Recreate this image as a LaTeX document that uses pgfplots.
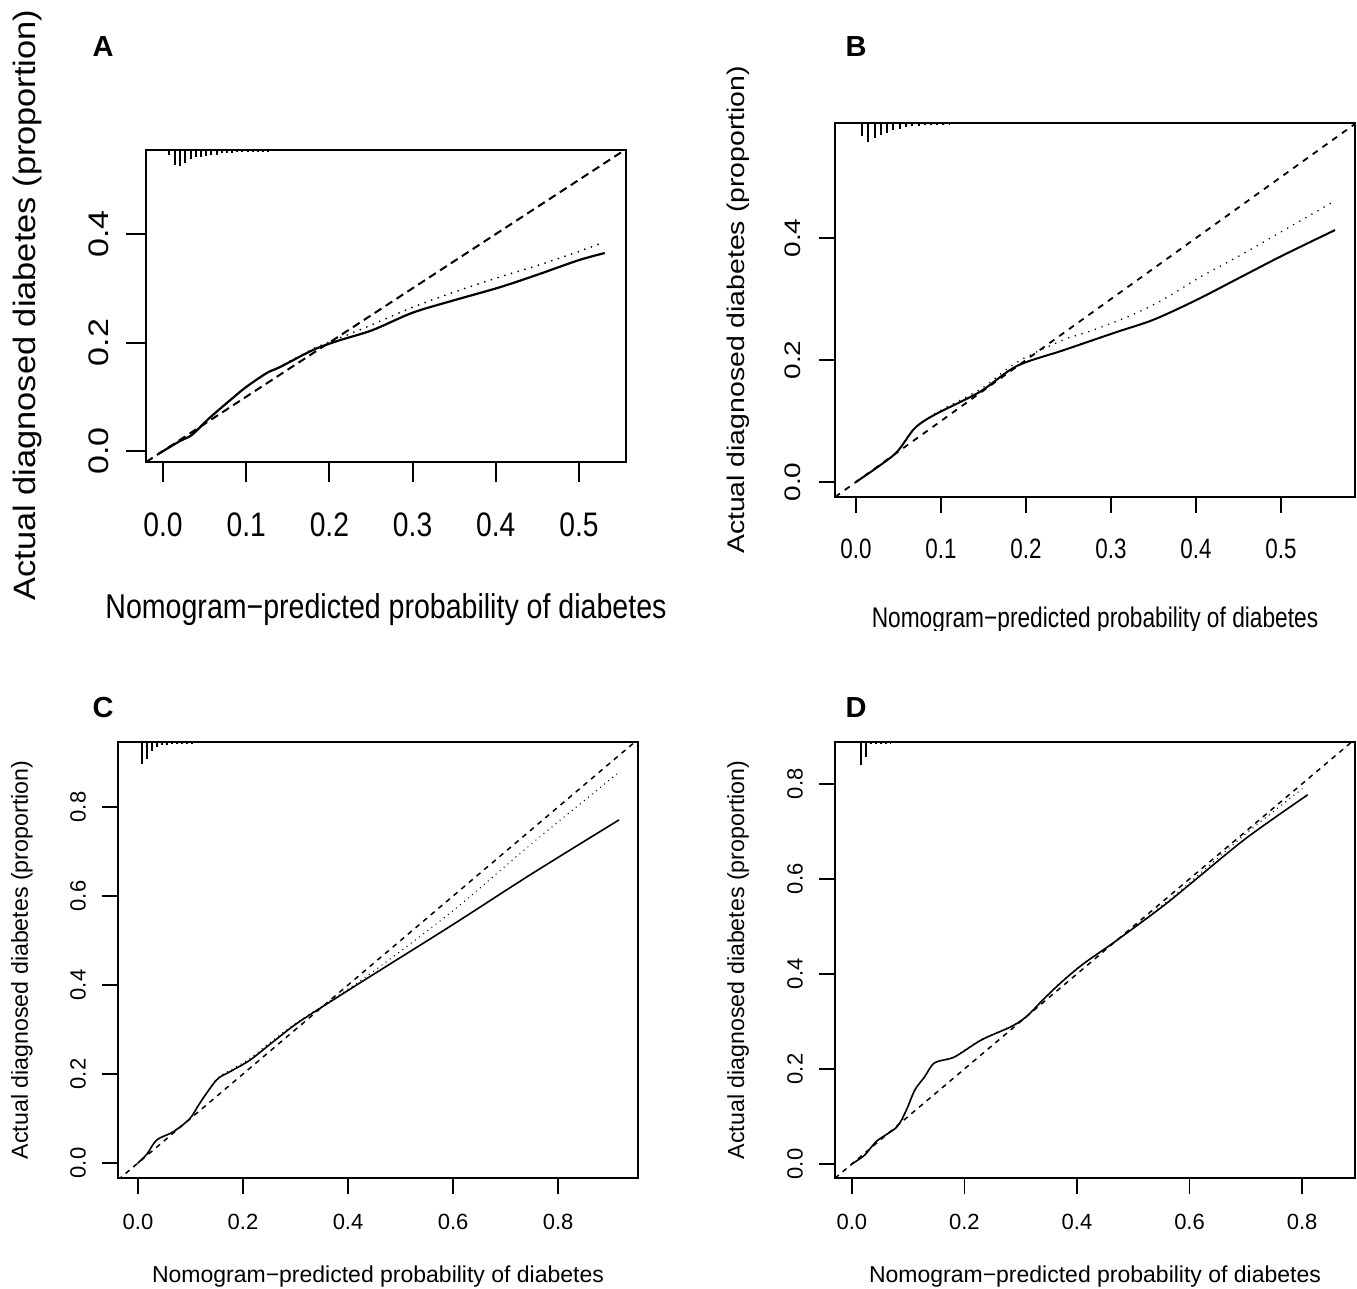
\documentclass[border=0pt]{standalone}
\usepackage{fontspec}
\setmainfont{Liberation Sans}
\usepackage{graphicx}
\usepackage{pgfplots}
\pgfplotsset{compat=1.18}

% text of panels A and B is squeezed sideways in the reference
\newcommand\hs[2]{\scalebox{#1}[1]{#2}}
\newcommand\vs[2]{\scalebox{1}[#1]{#2}}

% one px of the reference = 0.5pt
\pgfplotsset{
  calib/.style={
    scale only axis, anchor=south west,
    axis line style={line width=#1},
    tick style={line width=#1, black},
    tick align=outside, xtick pos=bottom, ytick pos=left,
    minor tick num=0,
    xticklabel style={anchor=center, inner sep=0pt},
    yticklabel style={rotate=90, anchor=center, inner sep=0pt},
  },
}

\begin{document}
\begin{tikzpicture}
\path[use as bounding box] (0,0) rectangle (678.5pt,-644.5pt);

% ---------------- A ----------------
\begin{axis}[calib=1pt, at={(73pt,-231pt)}, width=240pt, height=156pt,
  xmin=-0.0204, xmax=0.5565, ymin=-0.0203, ymax=0.555,
  xtick={0,0.1,0.2,0.3,0.4,0.5},
  xticklabels={\hs{0.83}{0.0},\hs{0.83}{0.1},\hs{0.83}{0.2},\hs{0.83}{0.3},\hs{0.83}{0.4},\hs{0.83}{0.5}},
  ytick={0,0.2,0.4},
  yticklabels={\vs{0.83}{0.0},\vs{0.83}{0.2},\vs{0.83}{0.4}},
  major tick length=10pt,
  xticklabel shift=21.5pt, yticklabel shift=13.5pt,
  ticklabel style={font=\fontsize{17}{19}\selectfont}]
\addplot[black, line width=1pt, dash pattern=on 4pt off 2.5pt]
  coordinates {(-0.0204,-0.0204) (0.5565,0.5565)};
\addplot[black, line width=1pt, dash pattern=on 0.01pt off 3.5pt, line cap=round, smooth] table {
x y
-0.005 -0.005
0.02 0.018
0.035 0.030
0.056 0.061
0.081 0.094
0.10 0.118
0.125 0.144
0.141 0.156
0.18 0.188
0.21 0.207
0.25 0.232
0.30 0.265
0.35 0.293
0.405 0.321
0.45 0.342
0.50 0.368
0.53 0.385
};
\addplot[black, line width=1.1pt, smooth] table {
x y
-0.005 -0.005
0.02 0.018
0.035 0.030
0.056 0.061
0.081 0.094
0.10 0.118
0.125 0.144
0.141 0.155
0.18 0.186
0.21 0.203
0.252 0.223
0.30 0.255
0.35 0.278
0.405 0.302
0.45 0.325
0.50 0.352
0.531 0.365
};
\addplot[black, line width=1pt, quiver={u=0, v=\thisrow{v}}] table {
x y v
0.0072 0.555 -0.0092
0.0144 0.555 -0.0276
0.0204 0.555 -0.0295
0.0264 0.555 -0.0240
0.0337 0.555 -0.0160
0.0397 0.555 -0.0130
0.0457 0.555 -0.0125
0.0517 0.555 -0.0110
0.0577 0.555 -0.0092
0.0649 0.555 -0.0092
0.0709 0.555 -0.0060
0.0769 0.555 -0.0055
0.0829 0.555 -0.0055
0.0889 0.555 -0.0040
0.0950 0.555 -0.0037
0.1022 0.555 -0.0037
0.1082 0.555 -0.0037
0.1142 0.555 -0.0033
0.1202 0.555 -0.0030
0.1262 0.555 -0.0028
0.14 0.555 -0.0025
0.155 0.555 -0.0025
0.17 0.555 -0.0022
0.19 0.555 -0.0022
0.21 0.555 -0.0020
0.23 0.555 -0.0020
0.25 0.555 -0.0020
0.28 0.555 -0.0020
0.31 0.555 -0.0020
0.34 0.555 -0.0020
0.37 0.555 -0.0020
0.40 0.555 -0.0020
0.44 0.555 -0.0020
0.48 0.555 -0.0020
0.52 0.555 -0.0020
};
\end{axis}

% ---------------- B ----------------
\begin{axis}[calib=0.8pt, at={(417.5pt,-248.5pt)}, width=260pt, height=187pt,
  xmin=-0.0247, xmax=0.587, ymin=-0.0246, ymax=0.5885,
  xtick={0,0.1,0.2,0.3,0.4,0.5},
  xticklabels={\hs{0.8}{0.0},\hs{0.8}{0.1},\hs{0.8}{0.2},\hs{0.8}{0.3},\hs{0.8}{0.4},\hs{0.8}{0.5}},
  ytick={0,0.2,0.4},
  yticklabels={\vs{0.8}{0.0},\vs{0.8}{0.2},\vs{0.8}{0.4}},
  major tick length=8pt,
  xticklabel shift=18pt, yticklabel shift=13pt,
  ticklabel style={font=\fontsize{14}{16}\selectfont}]
\addplot[black, line width=0.9pt, dash pattern=on 3pt off 3pt]
  coordinates {(-0.0247,-0.0247) (0.587,0.587)};
\addplot[black, line width=0.9pt, dash pattern=on 0.01pt off 3.5pt, line cap=round, smooth] table {
x y
0 0
0.025 0.024
0.048 0.049
0.067 0.085
0.08 0.10
0.099 0.117
0.146 0.152
0.19 0.197
0.244 0.233
0.275 0.247
0.32 0.271
0.36 0.298
0.405 0.336
0.45 0.370
0.50 0.410
0.561 0.459
};
\addplot[black, line width=1pt, smooth] table {
x y
0 0
0.025 0.024
0.048 0.049
0.067 0.085
0.08 0.10
0.099 0.115
0.146 0.148
0.189 0.190
0.244 0.216
0.307 0.246
0.35 0.266
0.40 0.298
0.45 0.334
0.50 0.370
0.5635 0.413
};
\addplot[black, line width=0.8pt, quiver={u=0, v=\thisrow{v}}] table {
x y v
0.0071 0.5885 -0.0213
0.0141 0.5885 -0.0311
0.0224 0.5885 -0.0246
0.0294 0.5885 -0.0197
0.0365 0.5885 -0.0164
0.0435 0.5885 -0.0115
0.0518 0.5885 -0.0098
0.0588 0.5885 -0.0066
0.0659 0.5885 -0.0049
0.0741 0.5885 -0.0049
0.0812 0.5885 -0.0033
0.0882 0.5885 -0.0033
0.0953 0.5885 -0.0033
0.1024 0.5885 -0.0025
0.11 0.5885 -0.0025
0.125 0.5885 -0.0022
0.14 0.5885 -0.0022
0.155 0.5885 -0.0020
0.17 0.5885 -0.0020
0.185 0.5885 -0.0020
0.20 0.5885 -0.0020
0.215 0.5885 -0.0020
0.23 0.5885 -0.0020
0.245 0.5885 -0.0020
0.26 0.5885 -0.0020
0.275 0.5885 -0.0020
0.29 0.5885 -0.0020
0.305 0.5885 -0.0020
0.32 0.5885 -0.0020
0.34 0.5885 -0.0020
0.36 0.5885 -0.0020
0.38 0.5885 -0.0020
0.40 0.5885 -0.0020
0.42 0.5885 -0.0020
0.45 0.5885 -0.0020
};
\end{axis}

% ---------------- C ----------------
\begin{axis}[calib=0.75pt, at={(59pt,-589pt)}, width=260pt, height=218pt,
  xmin=-0.038, xmax=0.952, ymin=-0.0337, ymax=0.946,
  xtick={0,0.2,0.4,0.6,0.8}, xticklabels={0.0,0.2,0.4,0.6,0.8},
  ytick={0,0.2,0.4,0.6,0.8}, yticklabels={0.0,0.2,0.4,0.6,0.8},
  major tick length=8pt,
  xticklabel shift=14pt, yticklabel shift=12pt,
  ticklabel style={font=\fontsize{11}{13}\selectfont}]
\addplot[black, line width=0.75pt, dash pattern=on 2.5pt off 2.5pt]
  coordinates {(-0.038,-0.038) (0.952,0.952)};
\addplot[black, line width=0.75pt, dash pattern=on 0.01pt off 2.6pt, line cap=round, smooth] table {
x y
0 0
0.017 0.020
0.036 0.052
0.067 0.070
0.099 0.100
0.118 0.135
0.15 0.189
0.175 0.208
0.213 0.235
0.257 0.276
0.303 0.316
0.371 0.368
0.45 0.432
0.60 0.567
0.75 0.718
0.914 0.876
};
\addplot[black, line width=0.8pt, smooth] table {
x y
0 0
0.017 0.020
0.036 0.052
0.067 0.070
0.099 0.100
0.118 0.135
0.15 0.187
0.175 0.205
0.213 0.231
0.257 0.272
0.303 0.314
0.371 0.366
0.45 0.425
0.60 0.536
0.75 0.650
0.916 0.771
};
\addplot[black, line width=0.75pt, quiver={u=0, v=\thisrow{v}}] table {
x y v
0.0076 0.946 -0.0494
0.0171 0.946 -0.0382
0.0267 0.946 -0.0202
0.0362 0.946 -0.0112
0.0457 0.946 -0.0067
0.0552 0.946 -0.0067
0.0648 0.946 -0.0045
0.0743 0.946 -0.0045
0.0838 0.946 -0.0034
0.0933 0.946 -0.0034
0.1029 0.946 -0.0034
0.1124 0.946 -0.0030
0.125 0.946 -0.0025
0.14 0.946 -0.0025
0.16 0.946 -0.0022
0.18 0.946 -0.0022
0.20 0.946 -0.0020
0.22 0.946 -0.0020
0.24 0.946 -0.0020
};
\end{axis}

% ---------------- D ----------------
\begin{axis}[calib=0.75pt, at={(417.5pt,-589pt)}, width=260pt, height=218pt,
  xmin=-0.030, xmax=0.894, ymin=-0.0295, ymax=0.888,
  xtick={0,0.2,0.4,0.6,0.8}, xticklabels={0.0,0.2,0.4,0.6,0.8},
  ytick={0,0.2,0.4,0.6,0.8}, yticklabels={0.0,0.2,0.4,0.6,0.8},
  major tick length=8pt,
  xticklabel shift=14pt, yticklabel shift=12pt,
  ticklabel style={font=\fontsize{11}{13}\selectfont}]
\addplot[black, line width=0.75pt, dash pattern=on 2.5pt off 2.5pt]
  coordinates {(-0.030,-0.030) (0.894,0.894)};
\addplot[black, line width=0.75pt, dash pattern=on 0.01pt off 2.6pt, line cap=round, smooth] table {
x y
0 0
0.023 0.019
0.044 0.048
0.08 0.078
0.097 0.114
0.112 0.156
0.129 0.183
0.147 0.213
0.182 0.226
0.23 0.262
0.283 0.290
0.31 0.311
0.34 0.347
0.37 0.381
0.41 0.420
0.47 0.470
0.55 0.543
0.60 0.592
0.70 0.695
0.805 0.794
};
\addplot[black, line width=0.8pt, smooth] table {
x y
0 0
0.023 0.019
0.044 0.048
0.08 0.078
0.097 0.114
0.112 0.156
0.129 0.183
0.147 0.213
0.182 0.225
0.23 0.261
0.283 0.289
0.31 0.310
0.34 0.346
0.37 0.380
0.41 0.420
0.47 0.470
0.55 0.540
0.60 0.588
0.70 0.685
0.81 0.777
};
\addplot[black, line width=0.75pt, quiver={u=0, v=\thisrow{v}}] table {
x y v
0.0159 0.888 -0.0484
0.0248 0.888 -0.0316
0.0336 0.888 -0.0042
0.0425 0.888 -0.0042
0.0513 0.888 -0.0042
0.0602 0.888 -0.0032
0.0690 0.888 -0.0032
};
\end{axis}

% panel letters and axis titles
\node[font=\bfseries\fontsize{14.5}{16}\selectfont] at (51.5pt,-23.5pt) {A};
\node[font=\bfseries\fontsize{14.5}{16}\selectfont] at (428pt,-23.5pt) {B};
\node[font=\bfseries\fontsize{14.5}{16}\selectfont] at (51.5pt,-354pt) {C};
\node[font=\bfseries\fontsize{14.5}{16}\selectfont] at (428pt,-354pt) {D};

\node[font=\fontsize{17.2}{19}\selectfont] at (193pt,-305pt)
  {\hs{0.83}{Nomogram−predicted probability of diabetes}};
\node[rotate=90, font=\fontsize{17.2}{19}\selectfont] at (13.5pt,-152.5pt)
  {\vs{0.9}{Actual diagnosed diabetes (proportion)}};

\node[font=\fontsize{14.2}{16}\selectfont] at (547.5pt,-310pt)
  {\hs{0.8}{Nomogram−predicted probability of diabetes}};
\fill[white] (415pt,-315.5pt) rectangle (678.5pt,-325pt);
\node[rotate=90, font=\fontsize{14.2}{16}\selectfont] at (369pt,-155pt)
  {\vs{0.85}{Actual diagnosed diabetes (proportion)}};

\node[font=\fontsize{11.5}{13}\selectfont] at (189pt,-638.5pt) {Nomogram−predicted probability of diabetes};
\node[rotate=90, font=\fontsize{11.6}{13}\selectfont] at (11pt,-480pt) {Actual diagnosed diabetes (proportion)};

\node[font=\fontsize{11.5}{13}\selectfont] at (547.5pt,-638.5pt) {Nomogram−predicted probability of diabetes};
\node[rotate=90, font=\fontsize{11.6}{13}\selectfont] at (369pt,-480pt) {Actual diagnosed diabetes (proportion)};
\end{tikzpicture}
\end{document}
